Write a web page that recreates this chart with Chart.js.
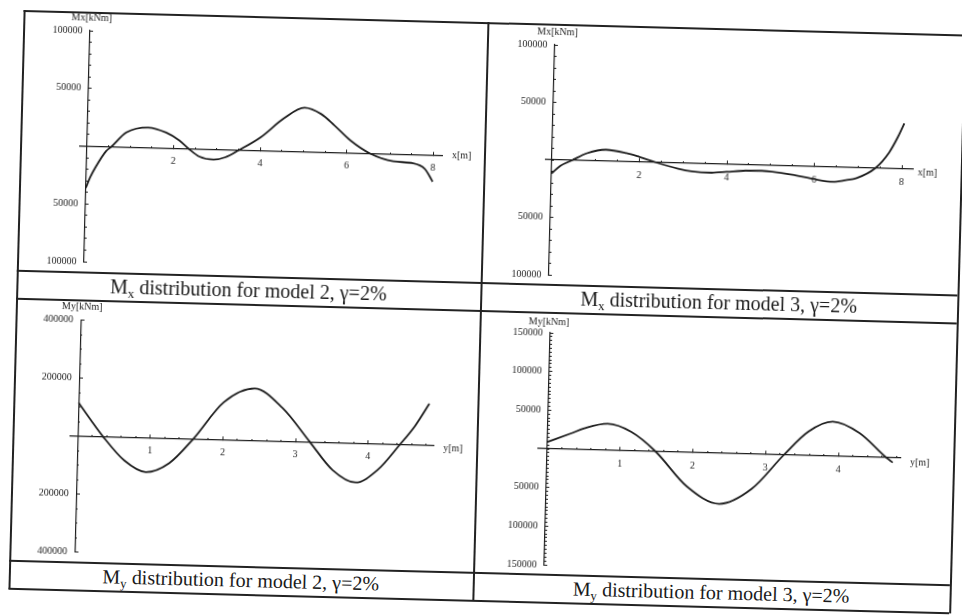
<!DOCTYPE html>
<html><head><meta charset="utf-8">
<script src="https://cdn.jsdelivr.net/npm/chart.js@4.4.1/dist/chart.umd.min.js"></script>
<style>
html,body{margin:0;padding:0;background:#fff;width:962px;height:615px;overflow:hidden;}
#page{position:absolute;left:0;top:0;width:962px;height:615px;transform:rotate(1.5deg);transform-origin:481px 307.5px;font-family:"Liberation Serif","DejaVu Serif",serif;color:#222;}
.ln{position:absolute;background:#222;}
.cap{position:absolute;font-size:20px;text-align:center;line-height:28px;height:28px;white-space:nowrap;color:#1a1a1a;}
.cap sub{font-size:13px;vertical-align:-4px;line-height:0;}
.ttl{position:absolute;font-size:10px;white-space:nowrap;line-height:10px;color:#222;}
canvas{position:absolute;}
</style></head><body>
<div id="page">
  <div class="ln" style="left:16px;top:22px;width:941px;height:1.5px"></div>
  <div class="ln" style="left:16px;top:282px;width:941px;height:1.5px"></div>
  <div class="ln" style="left:16px;top:310px;width:941px;height:1.5px"></div>
  <div class="ln" style="left:16px;top:572px;width:941px;height:1.5px"></div>
  <div class="ln" style="left:16px;top:600px;width:941px;height:1.5px"></div>
  <div class="ln" style="left:16px;top:22px;width:1.5px;height:579px"></div>
  <div class="ln" style="left:480px;top:22px;width:1.5px;height:579px"></div>
  <div class="ln" style="left:957px;top:22px;width:1.5px;height:579px"></div>

  <canvas id="c1" width="464" height="260" style="left:16px;top:22px"></canvas>
  <canvas id="c2" width="477" height="260" style="left:480px;top:22px"></canvas>
  <canvas id="c3" width="464" height="262" style="left:16px;top:310px"></canvas>
  <canvas id="c4" width="477" height="262" style="left:480px;top:310px"></canvas>

  <div class="ttl" style="left:64px;top:23px">Mx[kNm]</div>
  <div class="ttl" style="left:530px;top:25px">Mx[kNm]</div>
  <div class="ttl" style="left:62px;top:312px">My[kNm]</div>
  <div class="ttl" style="left:529px;top:315px">My[kNm]</div>
  <div class="ttl" style="left:448px;top:151px">x[m]</div>
  <div class="ttl" style="left:914px;top:156px">x[m]</div>
  <div class="ttl" style="left:447px;top:444px">y[m]</div>
  <div class="ttl" style="left:914px;top:446px">y[m]</div>

  <div class="cap" style="left:16px;top:282px;width:464px">M<sub>x</sub> distribution for model 2, γ=2%</div>
  <div class="cap" style="left:480px;top:282px;width:477px">M<sub>x</sub> distribution for model 3, γ=2%</div>
  <div class="cap" style="left:16px;top:572px;width:464px">M<sub>y</sub> distribution for model 2, γ=2%</div>
  <div class="cap" style="left:480px;top:572px;width:477px">M<sub>y</sub> distribution for model 3, γ=2%</div>
</div>
<script>
// ---- data ----
const mx2X = [0, 0.09, 0.21, 0.44, 0.56, 0.9, 1.4, 1.82, 2.13, 2.35, 2.6, 2.93, 3.2, 3.51, 4.0, 4.53, 5.0, 5.39, 5.7, 6.08, 6.54, 7.08, 7.54, 7.81, 7.97, 8.0];
const mx2Y = [-36000, -27000, -18000, -4000, 0, 12800, 17500, 13500, 7000, 0, -6500, -8800, -6500, 0, 11500, 28500, 38200, 33000, 23500, 10800, 0, -6200, -7500, -12000, -21000, -23000];

const mx3X = [0, 0.2, 0.46, 0.8, 1.23, 1.7, 2.0, 2.39, 2.89, 3.2, 3.66, 4.0, 4.43, 4.8, 5.04, 5.5, 5.97, 6.43, 6.73, 6.97, 7.39, 7.7, 7.89, 8.03];
const mx3Y = [-11800, -5000, 0, 6500, 10000, 7500, 4500, 0, -4800, -6800, -7600, -6500, -5000, -4800, -5300, -7500, -10600, -12800, -11000, -9000, 0, 14000, 27600, 39700];

const my2X = [0, 0.17, 0.35, 0.65, 0.95, 1.27, 1.59, 2.0, 2.42, 2.81, 3.2, 3.52, 3.84, 4.14, 4.44, 4.64, 4.83];
const my2Y = [115000, 58000, 0, -80000, -118000, -85000, 0, 130000, 180000, 115000, 0, -94000, -135000, -90000, 0, 65000, 143000];

const my3X = [0, 0.32, 0.5, 0.82, 1.15, 1.49, 1.93, 2.38, 2.82, 3.25, 3.58, 3.91, 4.28, 4.66, 4.75];
const my3Y = [9000, 20700, 27600, 34300, 24500, 0, -44000, -65400, -45000, 0, 31000, 44700, 31000, 0, -6000];

// ---- tick labels ----
const mx2XTicks = [2, 4, 6, 8];
const mx2YTicks = [-100000, -50000, 50000, 100000];
const mx3XTicks = [2, 4, 6, 8];
const mx3YTicks = [-100000, -50000, 50000, 100000];
const my2XTicks = [1, 2, 3, 4];
const my2YTicks = [-400000, -200000, 200000, 400000];
const my3XTicks = [1, 2, 3, 4];
const my3YTicks = [-150000, -100000, -50000, 50000, 100000, 150000];

// ---- rendering ----
const INK = '#1e1e1e';
const tickFont = {family: 'Liberation Serif', size: 10};

function minorList(min, max, step) {
  const out = [];
  const n0 = Math.ceil(min / step - 1e-9), n1 = Math.floor(max / step + 1e-9);
  for (let n = n0; n <= n1; n++) out.push(+(n * step).toFixed(6));
  return out;
}
function setTicks(list) {
  return s => { s.ticks = list.map(v => ({value: v})); };
}

function panel(id, xs, ys, xTicks, yTicks, g) {
  const pts = xs.map((x, i) => ({x: x, y: ys[i]}));
  const axisCommon = {
    type: 'linear',
    border: {display: true, color: INK, width: 1.2},
    grid: {drawOnChartArea: false, drawTicks: true, tickLength: -4, tickColor: INK, tickWidth: 1},
  };
  const cv = document.getElementById(id);
  const chart = new Chart(cv, {
    type: 'scatter',
    data: {datasets: [{data: pts, showLine: true, pointRadius: 0, borderColor: INK, borderWidth: 1.8,
      cubicInterpolationMode: 'monotone', fill: false}]},
    options: {
      responsive: false, animation: false, events: [],
      layout: {padding: g.pad},
      plugins: {legend: {display: false}, tooltip: {enabled: false}},
      scales: {
        x: Object.assign({}, axisCommon, {
          min: g.xMin, max: g.xMax, position: {y: 0},
          afterBuildTicks: setTicks(xTicks),
          ticks: {font: tickFont, color: INK, padding: 11, autoSkip: false, maxRotation: 0,
            callback: v => String(v)}
        }),
        y: Object.assign({}, axisCommon, {
          min: g.yMin, max: g.yMax, position: {x: 0},
          afterBuildTicks: setTicks(yTicks),
          ticks: {font: tickFont, color: INK, padding: 0, autoSkip: false,
            callback: v => v === 0 ? '' : String(Math.abs(v)) + '   '}
        }),
        xm: {
          type: 'linear', axis: 'x', min: g.xMin, max: g.xMax, position: {y: 0},
          border: {display: false},
          grid: {drawOnChartArea: false, drawTicks: true, tickLength: -2, tickColor: INK, tickWidth: 1},
          afterBuildTicks: setTicks(minorList(Math.max(0, g.xMin), g.xMax, g.xMinor)),
          ticks: {display: false, autoSkip: false}
        },
        ym: {
          type: 'linear', axis: 'y', min: g.yMin, max: g.yMax, position: {x: 0},
          border: {display: false},
          grid: {drawOnChartArea: false, drawTicks: true, tickLength: -2, tickColor: INK, tickWidth: 1},
          afterBuildTicks: setTicks(minorList(g.yMin, g.yMax, g.yMinor)),
          ticks: {display: false, autoSkip: false}
        }
      }
    }
  });
  // align the plot area with the wanted frame (page coordinates)
  const ca = chart.chartArea;
  const L = parseFloat(cv.style.left), T = parseFloat(cv.style.top);
  const W = chart.width, H = chart.height;
  const nL = L + (g.want.left - (L + ca.left));
  const nT = T + (g.want.top - (T + ca.top));
  const nW = Math.round(W + (g.want.right - g.want.left) - (ca.right - ca.left));
  const nH = Math.round(H + (g.want.bottom - g.want.top) - (ca.bottom - ca.top));
  cv.style.left = nL + 'px';
  cv.style.top = nT + 'px';
  chart.resize(nW, nH);
}

panel('c1', mx2X, mx2Y, mx2XTicks, mx2YTicks,
  {xMin: -0.17, xMax: 8.2, yMin: -100000, yMax: 100000, xMinor: 0.5, yMinor: 10000,
   pad: {left: 59.6, right: 42, top: 19, bottom: 10},
   want: {left: 75.6, right: 438, top: 41, bottom: 272}});
panel('c2', mx3X, mx3Y, mx3XTicks, mx3YTicks,
  {xMin: -0.15, xMax: 8.25, yMin: -100000, yMax: 100000, xMinor: 0.5, yMinor: 10000,
   pad: {left: 61.4, right: 48, top: 21, bottom: 9},
   want: {left: 541.4, right: 909, top: 43, bottom: 273}});
panel('c3', my2X, my2Y, my2XTicks, my2YTicks,
  {xMin: -0.1, xMax: 4.9, yMin: -400000, yMax: 400000, xMinor: 0.2, yMinor: 50000,
   pad: {left: 58, right: 43, top: 20.5, bottom: 9.4},
   want: {left: 74, right: 437, top: 330.5, bottom: 563.5}});
panel('c4', my3X, my3Y, my3XTicks, my3YTicks,
  {xMin: -0.13, xMax: 4.85, yMin: -150000, yMax: 150000, xMinor: 0.2, yMinor: 5000,
   pad: {left: 61.5, right: 53, top: 21, bottom: 9},
   want: {left: 541.5, right: 904, top: 331, bottom: 565}});
</script>
</body></html>
